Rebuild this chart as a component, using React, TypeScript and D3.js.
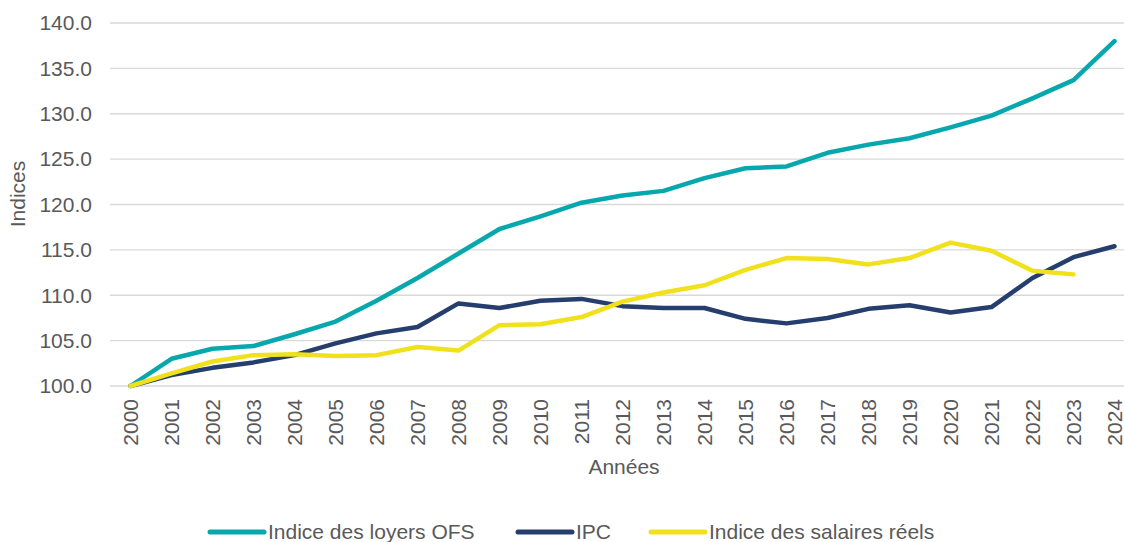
import React, { useEffect, useRef } from "react";
import * as d3 from "d3";

const years = d3.range(2000, 2025).map(String);
const loyers = [100.0, 103.0, 104.1, 104.4, 105.7, 107.1, 109.4, 111.9, 114.6, 117.3, 118.7, 120.2, 121.0, 121.5, 122.9, 124.0, 124.2, 125.7, 126.6, 127.3, 128.5, 129.8, 131.7, 133.7, 138.0];
const ipc = [100.0, 101.2, 102.0, 102.6, 103.4, 104.7, 105.8, 106.5, 109.1, 108.6, 109.4, 109.6, 108.8, 108.6, 108.6, 107.4, 106.9, 107.5, 108.5, 108.9, 108.1, 108.7, 111.9, 114.2, 115.4];
const salaires = [100.0, 101.4, 102.7, 103.4, 103.5, 103.3, 103.4, 104.3, 103.9, 106.7, 106.8, 107.6, 109.3, 110.3, 111.1, 112.8, 114.1, 114.0, 113.4, 114.1, 115.8, 114.9, 112.7, 112.3];
const yTicks = [100, 105, 110, 115, 120, 125, 130, 135, 140];

const series = [
  { name: "Indice des loyers OFS", values: loyers, color: "#06a8ad" },
  { name: "IPC", values: ipc, color: "#263e6d" },
  { name: "Indice des salaires réels", values: salaires, color: "#f1e11c" },
];

const W = 1124, H = 542;
const margin = { top: 23, right: 0, bottom: 156, left: 110 };

export default function App() {
  const ref = useRef<SVGSVGElement>(null);

  useEffect(() => {
    const svg = d3.select(ref.current);
    svg.selectAll("*").remove();
    const font = "'Liberation Sans', Arial, sans-serif";
    const textColor = "#595959";
    const fs = 21;

    const x = d3.scaleBand().domain(years).range([margin.left, 1135]);
    const y = d3.scaleLinear().domain([100, 140]).range([H - margin.bottom, margin.top]);
    const cx = (i: number) => (x(years[i]) as number) + x.bandwidth() / 2;

    // grid
    svg.append("g").selectAll("line").data(yTicks).join("line")
      .attr("x1", margin.left).attr("x2", W)
      .attr("y1", d => y(d)).attr("y2", d => y(d))
      .attr("stroke", "#d9d9d9").attr("stroke-width", 1.3);

    // y tick labels
    svg.append("g").selectAll("text").data(yTicks).join("text")
      .attr("x", 92).attr("y", d => y(d)).attr("dy", "0.35em")
      .attr("text-anchor", "end").attr("font-family", font).attr("font-size", fs)
      .attr("fill", textColor).text(d => d.toFixed(1));

    // x tick labels, rotated
    svg.append("g").selectAll("text").data(years).join("text")
      .attr("transform", (d, i) => `translate(${cx(i)},${y(100) + 13}) rotate(-90)`)
      .attr("dy", "0.36em").attr("text-anchor", "end")
      .attr("font-family", font).attr("font-size", fs).attr("fill", textColor)
      .text(d => d);

    // axis titles
    svg.append("text").attr("x", 624).attr("y", 474).attr("text-anchor", "middle")
      .attr("font-family", font).attr("font-size", fs).attr("fill", textColor).text("Années");
    svg.append("text").attr("transform", `translate(25,194) rotate(-90)`)
      .attr("text-anchor", "middle").attr("font-family", font).attr("font-size", fs)
      .attr("fill", textColor).text("Indices");

    // lines
    const line = d3.line<number>().x((d, i) => cx(i)).y(d => y(d));
    svg.append("g").selectAll("path").data(series).join("path")
      .attr("d", d => line(d.values))
      .attr("fill", "none").attr("stroke", d => d.color)
      .attr("stroke-width", 4.5).attr("stroke-linejoin", "round").attr("stroke-linecap", "round");

    // legend
    const legendX = [210, 518, 651];
    const lg = svg.append("g").selectAll("g").data(series).join("g")
      .attr("transform", (d, i) => `translate(${legendX[i]},532)`);
    lg.append("line").attr("x1", 0).attr("x2", 54).attr("y1", 0).attr("y2", 0)
      .attr("stroke", d => d.color).attr("stroke-width", 5).attr("stroke-linecap", "round");
    lg.append("text").attr("x", 58).attr("dy", "0.35em")
      .attr("font-family", font).attr("font-size", fs).attr("fill", textColor)
      .text(d => d.name);
  }, []);

  return (
    <svg ref={ref} width={W} height={H}
      style={{ position: "absolute", left: 0, top: 0, background: "#fff" }} />
  );
}
